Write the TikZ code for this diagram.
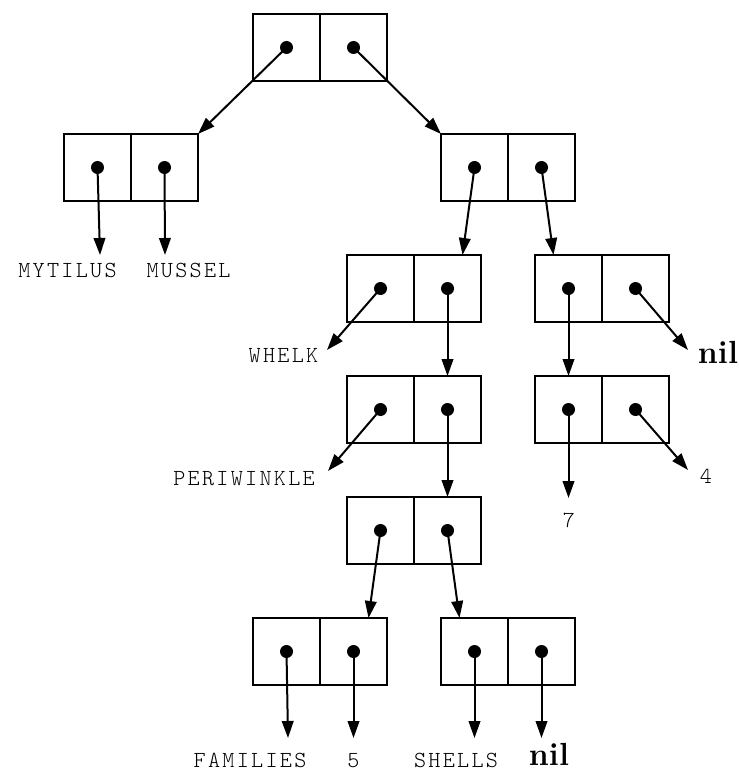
\documentclass[tikz,border=0pt]{standalone}
\usepackage{fontspec}
\newfontfamily\atomfont{lmmonolt10-regular}[Extension=.otf,LetterSpace=10]
\usetikzlibrary{
arrows.meta,
positioning
}
\tikzset{
  cell/.style={draw, line width=1pt, minimum size=33.5pt, inner sep=0pt, outer sep=0pt},
  ptr/.style={-{Triangle[length=8.5pt,width=5.8pt]}, line width=1pt},
  atom/.style={font=\atomfont\fontsize{11.5}{14}\selectfont, inner sep=0pt, anchor=base},
  nilatom/.style={font=\bfseries\fontsize{16}{19}\selectfont, inner sep=0pt, anchor=base}
}
\begin{document}
\begin{tikzpicture}[x=0.5pt,y=-0.5pt]
    \useasboundingbox (0,0) rectangle (738,770);

    \node[cell] (A0) at (286.5,47.5) {};
    \node[cell, right = 0pt of A0] (D0) {};

    \node[cell] (A1) at (97.5,167.5) {};
    \node[cell, right = 0pt of A1] (D1) {};
    \node[cell] (A2) at (474.5,167.5) {};
    \node[cell, right = 0pt of A2] (D2) {};
    \draw[ptr] (A0.center) -- (D1.north east);
    \draw[ptr] (D0.center) -- (A2.north west);

    \node[atom] (mytilus) at (67.5,278) {MYTILUS};
    \node[atom] (mussel) at (188.5,278) {MUSSEL};
    \coordinate (mytilus-tip) at (100,255);
    \coordinate (mussel-tip) at (165,255);
    \draw[ptr] (A1.center) -- (mytilus-tip);
    \draw[ptr] (D1.center) -- (mussel-tip);

    \node[cell] (A3) at (380.5,288.5) {};
    \node[cell, right = 0pt of A3] (D3) {};
    \node[cell] (A4) at (568.5,288.5) {};
    \node[cell, right = 0pt of A4] (D4) {};
    \draw[ptr] (A2.center) -- ([xshift=7.5pt]D3.north);
    \draw[ptr] (D2.center) -- ([xshift=-7.5pt]A4.north);

    \node[atom] (whelk) at (283.5,362) {WHELK};
    \coordinate (whelk-tip) at (327,350);
    \draw[ptr] (A3.center) -- (whelk-tip);
    \node[nilatom] (nil1) at (718,363) {nil};
    \coordinate (nil1-tip) at (688,350);
    \draw[ptr] (D4.center) -- (nil1-tip);

    \node[cell] (A5) at (380.5,409.5) {};
    \node[cell, right = 0pt of A5] (D5) {};
    \node[cell] (A6) at (568.5,409.5) {};
    \node[cell, right = 0pt of A6] (D6) {};
    \draw[ptr] (D3.center) -- (D5.north);
    \draw[ptr] (A4.center) -- (A6.north);

    \node[atom] (periwinkle) at (244,485) {PERIWINKLE};
    \coordinate (periwinkle-tip) at (328,471);
    \draw[ptr] (A5.center) -- (periwinkle-tip);
    \node[atom] (seven) at (569,527) {7};
    \coordinate (seven-tip) at (568.5,498);
    \draw[ptr] (A6.center) -- (seven-tip);
    \node[atom] (four) at (706,483) {4};
    \coordinate (four-tip) at (688,470);
    \draw[ptr] (D6.center) -- (four-tip);

    \node[cell] (A7) at (380.5,530.5) {};
    \node[cell, right = 0pt of A7] (D7) {};
    \draw[ptr] (D5.center) -- (D7.north);

    \node[cell] (A8) at (286.5,651.5) {};
    \node[cell, right = 0pt of A8] (D8) {};
    \node[cell] (A9) at (474.5,651.5) {};
    \node[cell, right = 0pt of A9] (D9) {};
    \draw[ptr] (A7.center) -- ([xshift=7.5pt]D8.north);
    \draw[ptr] (D7.center) -- ([xshift=-7.5pt]A9.north);

    \node[atom] (families) at (250,767) {FAMILIES};
    \node[atom] (five) at (353.5,767) {5};
    \node[atom] (shells) at (456,767) {SHELLS};
    \node[nilatom] (nil2) at (549,765) {nil};
    \coordinate (families-tip) at (288,738);
    \coordinate (five-tip) at (353.5,738);
    \coordinate (shells-tip) at (474.5,738);
    \coordinate (nil2-tip) at (541.5,738);
    \draw[ptr] (A8.center) -- (families-tip);
    \draw[ptr] (D8.center) -- (five-tip);
    \draw[ptr] (A9.center) -- (shells-tip);
    \draw[ptr] (D9.center) -- (nil2-tip);

    \foreach \c in {A0,D0,A1,D1,A2,D2,A3,D3,A4,D4,A5,D5,A6,D6,A7,D7,A8,D8,A9,D9}
      \fill (\c.center) circle (3.25pt);
\end{tikzpicture}
\end{document}
